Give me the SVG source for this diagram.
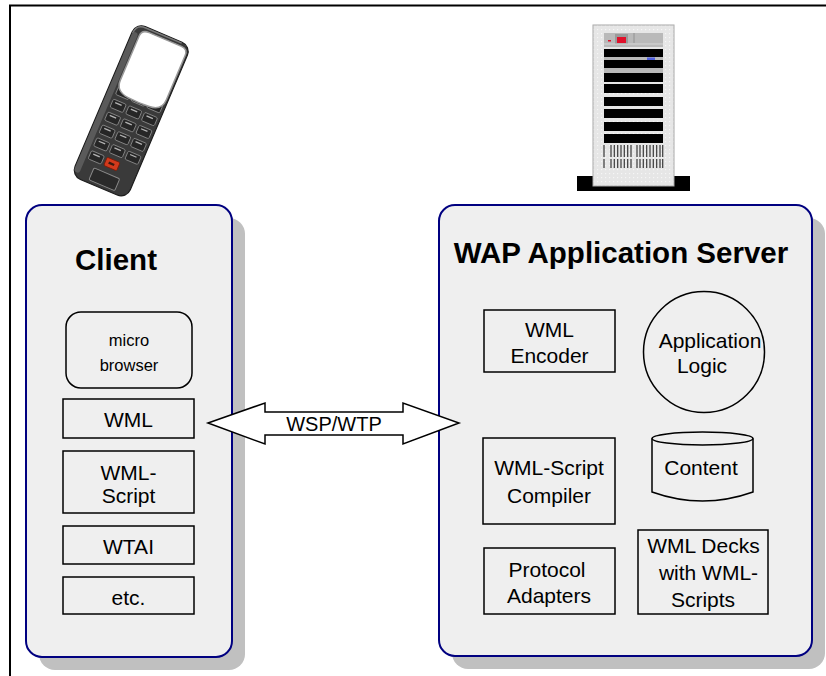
<svg xmlns="http://www.w3.org/2000/svg" width="826" height="676" viewBox="0 0 826 676">
  <defs>
    <style>
      .frame { fill: none; stroke: #000; stroke-width: 2; }
      .shadow { fill: #c0c0c0; }
      .panel { fill: #efefef; stroke: #000080; stroke-width: 2; }
      .box { fill: #efefef; stroke: #000; stroke-width: 1.5; }
      .title { font-family: "Liberation Sans", Arial, sans-serif; font-weight: bold; font-size: 29.5px; fill: #000; }
      .lbl { font-family: "Liberation Sans", Arial, sans-serif; font-size: 21px; fill: #000; text-anchor: middle; }
      .small { font-size: 16.5px; }
      .key { fill: #262626; stroke: #8c8c8c; stroke-width: 0.8; }
      .keymark { fill: #b4b4b4; }
      .bay { fill: #000; }
      .strip { fill: #b9b9b9; }
      .vent { stroke: #3a3a3a; stroke-width: 1.2; }
    </style>
    <pattern id="dots" width="4" height="4" patternUnits="userSpaceOnUse">
      <rect width="4" height="4" fill="#e6e6e6"/>
      <rect x="1" y="1" width="1.2" height="1.2" fill="#f6f6f6"/>
    </pattern>
  </defs>

  <!-- page frame (top and left rules) -->
  <path class="frame" d="M10,676 V5.5 H826"/>

  <!-- handset clip-art -->
  <g id="phone" transform="translate(132,109) rotate(23)">
    <rect x="-30" y="-81" width="60" height="166" rx="10" fill="#3a3a3a" stroke="#1c1c1c" stroke-width="1.2"/>
    <path d="M-29,-70 Q-29,-80 -19,-80 L20,-80" fill="none" stroke="#7a7a7a" stroke-width="1.5"/>
    <rect x="-29.5" y="-72" width="6" height="152" rx="3" fill="#5a5a5a"/>
    <!-- keypad -->
    <g>
      <rect class="key" x="-21" y="-16" width="14" height="9" rx="1.5"/>
      <rect class="key" x="-4" y="-16" width="14" height="9" rx="1.5"/>
      <rect class="key" x="13" y="-16" width="14" height="9" rx="1.5"/>
      <rect class="key" x="-21" y="-2" width="14" height="9" rx="1.5"/>
      <rect class="key" x="-4" y="-2" width="14" height="9" rx="1.5"/>
      <rect class="key" x="13" y="-2" width="14" height="9" rx="1.5"/>
      <rect class="key" x="-21" y="12" width="14" height="9" rx="1.5"/>
      <rect class="key" x="-4" y="12" width="14" height="9" rx="1.5"/>
      <rect class="key" x="13" y="12" width="14" height="9" rx="1.5"/>
      <rect class="key" x="-21" y="26" width="14" height="9" rx="1.5"/>
      <rect class="key" x="-4" y="26" width="14" height="9" rx="1.5"/>
      <rect class="key" x="13" y="26" width="14" height="9" rx="1.5"/>
      <rect class="key" x="-21" y="40" width="14" height="9" rx="1.5"/>
      <rect class="key" x="-4" y="40" width="14" height="9" rx="1.5"/>
      <rect class="key" x="13" y="40" width="14" height="9" rx="1.5"/>
      <rect class="key" x="-21" y="54" width="14" height="9" rx="1.5" fill="#4a4a4a"/>
      <rect x="-4" y="54" width="14" height="9" rx="1.5" fill="#d23a1c" stroke="#7a1a08" stroke-width="0.8"/>
      <rect x="-0.5" y="57.3" width="6" height="2.4" fill="#3a1a10"/>
    </g>
    <g class="keymark">
      <rect x="-18" y="0" width="7" height="1.3"/><rect x="-1" y="0" width="7" height="1.3"/><rect x="16" y="0" width="7" height="1.3"/>
      <rect x="-18" y="14" width="7" height="1.3"/><rect x="-1" y="14" width="7" height="1.3"/><rect x="16" y="14" width="7" height="1.3"/>
      <rect x="-18" y="28" width="7" height="1.3"/><rect x="-1" y="28" width="7" height="1.3"/><rect x="16" y="28" width="7" height="1.3"/>
      <rect x="-18" y="42" width="7" height="1.3"/><rect x="-1" y="42" width="7" height="1.3"/><rect x="16" y="42" width="7" height="1.3"/>
      <rect x="-18" y="56" width="7" height="1.3"/>
    </g>
    <!-- display -->
    <path d="M-14,-77 L21,-77 Q28,-77 28,-70 L28,-22 Q28,-10 15,-9 Q4,-8 -8,-9 Q-22,-10 -22,-22 L-22,-70 Q-22,-77 -14,-77 Z" fill="#fff" stroke="#9a9a9a" stroke-width="1.5"/>
    <!-- mouthpiece -->
    <rect x="-12" y="69" width="28" height="13" rx="1.5" fill="#2a2a2a" stroke="#8a8a8a" stroke-width="1"/>
  </g>

  <!-- server tower clip-art -->
  <g id="server">
    <rect x="577" y="176" width="113" height="15" fill="#000"/>
    <rect x="593" y="25" width="81" height="161" fill="url(#dots)" stroke="#a8a8a8" stroke-width="1"/>
    <rect class="strip" x="604" y="33" width="59" height="14"/>
    <rect x="615" y="34" width="13" height="10" fill="#9a9a9a"/>
    <rect x="617" y="37" width="9" height="6" fill="#e0102a"/>
    <rect x="608" y="40" width="3" height="1.5" fill="#e0102a"/>
    <line x1="634" y1="33" x2="634" y2="43" stroke="#888" stroke-width="0.8"/>
    <line x1="604" y1="44" x2="663" y2="44" stroke="#ddd" stroke-width="0.8"/>
    <rect class="bay" x="604" y="49" width="59" height="8"/>
    <rect class="strip" x="604" y="57" width="59" height="3"/>
    <rect x="647" y="57.5" width="8" height="2.5" fill="#5060e0"/>
    <rect class="bay" x="604" y="60" width="59" height="8"/>
    <rect class="strip" x="604" y="68" width="59" height="5"/>
    <rect class="bay" x="604" y="73" width="59" height="9"/>
    <rect class="bay" x="604" y="84" width="59" height="9"/>
    <rect class="bay" x="604" y="97" width="59" height="9"/>
    <rect class="bay" x="604" y="109" width="59" height="9"/>
    <rect class="bay" x="604" y="122" width="59" height="9"/>
    <rect class="bay" x="604" y="134" width="59" height="9"/>
    <g class="vent">
      <path d="M604,145V157M611,145V157M614.3,145V157M617.7,145V157M621,145V157M624.3,145V157M627.7,145V157M631,145V157M637,145V157M640,145V157M643.3,145V157M646.7,145V157M650,145V157M653.3,145V157M656.7,145V157M660,145V157M662.7,145V157"/>
      <path d="M604,159V168M611,159V168M614.3,159V168M617.7,159V168M621,159V168M624.3,159V168M627.7,159V168M631,159V168M637,159V168M640,159V168M643.3,159V168M646.7,159V168M650,159V168M653.3,159V168M656.7,159V168M660,159V168M662.7,159V168"/>
    </g>
  </g>

  <!-- client side -->
  <g id="client">
    <rect class="shadow" x="39" y="218" width="206" height="452" rx="16"/>
    <rect class="panel" x="26" y="205" width="206" height="452" rx="16"/>
    <text class="title" x="116" y="270" text-anchor="middle">Client</text>
  </g>
  <g id="micro-browser">
    <rect class="box" x="66" y="312" width="126" height="76" rx="15"/>
    <text class="lbl small" x="129" y="346">micro</text>
    <text class="lbl small" x="129" y="371">browser</text>
  </g>
  <g id="client-wml">
    <rect class="box" x="63" y="399" width="131" height="39"/>
    <text class="lbl" x="128.5" y="427">WML</text>
  </g>
  <g id="client-wmlscript">
    <rect class="box" x="63" y="451" width="131" height="62"/>
    <text class="lbl" x="128.5" y="480">WML-</text>
    <text class="lbl" x="128.5" y="503">Script</text>
  </g>
  <g id="client-wtai">
    <rect class="box" x="63" y="526" width="131" height="38"/>
    <text class="lbl" x="128.5" y="554">WTAI</text>
  </g>
  <g id="client-etc">
    <rect class="box" x="63" y="577" width="131" height="37"/>
    <text class="lbl" x="128.5" y="605">etc.</text>
  </g>

  <!-- server side -->
  <g id="wap-server">
    <rect class="shadow" x="452" y="218" width="373" height="451" rx="16"/>
    <rect class="panel" x="439" y="205" width="373" height="451" rx="16"/>
    <text class="title" x="621" y="263" text-anchor="middle">WAP Application Server</text>
  </g>
  <g id="wml-encoder">
    <rect class="box" x="484" y="310" width="131" height="62"/>
    <text class="lbl" x="549.5" y="337">WML</text>
    <text class="lbl" x="549.5" y="363">Encoder</text>
  </g>
  <g id="application-logic">
    <circle class="box" cx="704" cy="352" r="60.5"/>
    <text class="lbl" x="710" y="348">Application</text>
    <text class="lbl" x="702" y="373">Logic</text>
  </g>
  <g id="wmlscript-compiler">
    <rect class="box" x="483" y="438" width="132" height="86"/>
    <text class="lbl" x="549" y="475">WML-Script</text>
    <text class="lbl" x="549" y="503">Compiler</text>
  </g>
  <g id="content">
    <path class="box" d="M652,438.5 V492 Q702.5,510 753,492 V438.5"/>
    <ellipse class="box" cx="702.5" cy="438.5" rx="50.5" ry="6.5"/>
    <text class="lbl" x="701" y="475">Content</text>
  </g>
  <g id="protocol-adapters">
    <rect class="box" x="484" y="548" width="131" height="66"/>
    <text class="lbl" x="547" y="577">Protocol</text>
    <text class="lbl" x="549" y="603">Adapters</text>
  </g>
  <g id="wml-decks">
    <rect class="box" x="638" y="530" width="130" height="84"/>
    <text class="lbl" x="703.5" y="553">WML Decks</text>
    <text class="lbl" x="708.5" y="580">with WML-</text>
    <text class="lbl" x="703" y="607">Scripts</text>
  </g>

  <!-- connectors -->
  <g id="connectors">
    <g id="wsp-wtp">
      <polygon points="208,423 265,403 265,412 403,412 403,403 459,423 403,444 403,435 265,435 265,444" fill="#fff" stroke="#000" stroke-width="1.5" stroke-linejoin="miter"/>
      <text class="lbl" x="334" y="431" style="font-size:20px">WSP/WTP</text>
    </g>
  </g>
</svg>
